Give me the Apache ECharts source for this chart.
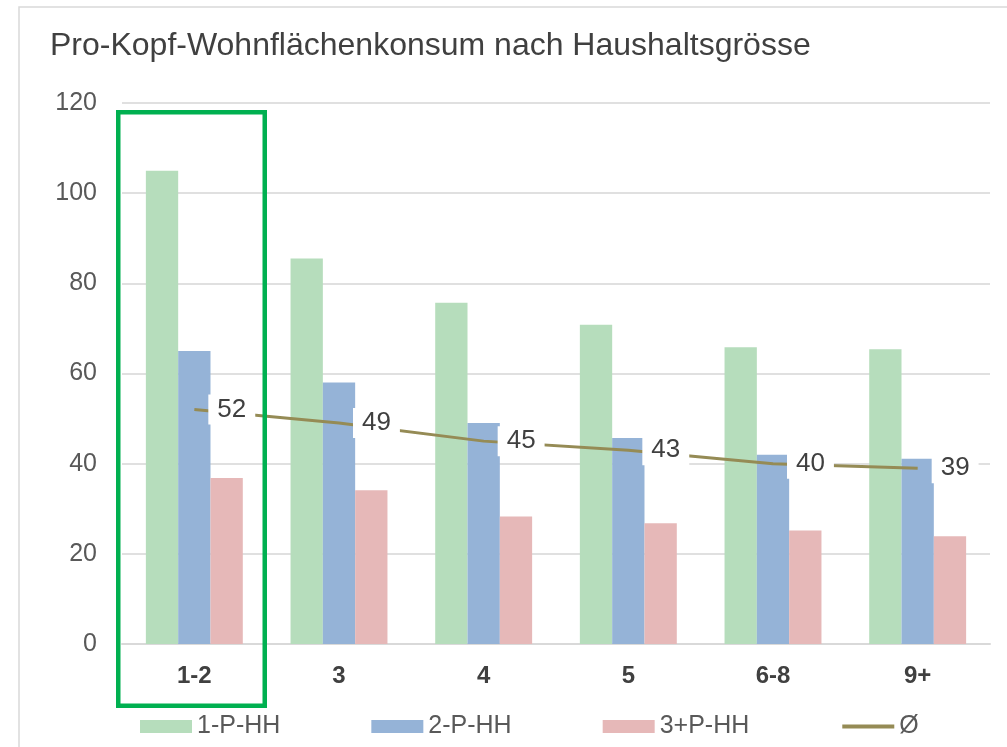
<!DOCTYPE html>
<html>
<head>
<meta charset="utf-8">
<script src="https://cdn.jsdelivr.net/npm/echarts@6/dist/echarts.min.js"></script>
<style>
html,body{margin:0;padding:0;background:#fff;}
#chart{width:1007px;height:747px;}
</style>
</head>
<body>
<div id="chart"></div>
<script>
var categories = ['1-2', '3', '4', '5', '6-8', '9+'];
var seriesNames = ['1-P-HH', '2-P-HH', '3+P-HH', 'Ø'];
var onePersonHH = [105, 85.5, 75.7, 70.8, 65.8, 65.4];
var twoPersonHH = [65, 58, 49, 45.7, 42, 41.1];
var threePlusPersonHH = [36.8, 34.1, 28.3, 26.8, 25.2, 23.9];
var average = [52, 49, 45, 43, 40, 39];
var yTicks = [0, 20, 40, 60, 80, 100, 120];

var FONT = '"Liberation Sans", Arial, Helvetica, sans-serif';
var chart = echarts.init(document.getElementById('chart'), null, {renderer: 'canvas'});

var option = {
  backgroundColor: '#ffffff',
  animation: false,
  title: {
    text: 'Pro-Kopf-Wohnflächenkonsum nach Haushaltsgrösse',
    left: 50,
    top: 30,
    padding: 0,
    textStyle: {fontFamily: FONT, fontSize: 32, fontWeight: 'normal', color: '#404040'}
  },
  legend: {
    left: 140,
    top: 714,
    padding: 0,
    itemWidth: 52,
    itemHeight: 13,
    itemGap: 91,
    textStyle: {fontFamily: FONT, fontSize: 25, color: '#595959'},
    data: [
      {name: seriesNames[0], icon: 'rect'},
      {name: seriesNames[1], icon: 'rect'},
      {name: seriesNames[2], icon: 'rect'},
      {name: seriesNames[3], itemStyle: {opacity: 0}, lineStyle: {width: 4}}
    ]
  },
  grid: {left: 122, right: 17, top: 103, bottom: 103, containLabel: false},
  xAxis: {
    type: 'category',
    data: categories,
    axisLine: {show: true, lineStyle: {color: '#d9d9d9', width: 2}},
    axisTick: {show: false},
    axisLabel: {fontFamily: FONT, fontSize: 24, fontWeight: 'bold', color: '#404040', margin: 20}
  },
  yAxis: {
    type: 'value',
    min: yTicks[0],
    max: yTicks[yTicks.length - 1],
    interval: yTicks[1] - yTicks[0],
    axisLine: {show: false},
    axisTick: {show: false},
    splitLine: {lineStyle: {color: '#e0e0e0', width: 2}},
    axisLabel: {fontFamily: FONT, fontSize: 25, color: '#595959', margin: 25}
  },
  series: [
    {name: seriesNames[0], type: 'bar', data: onePersonHH, barGap: '0%', barCategoryGap: '33%',
     itemStyle: {color: '#b6ddbc'}, z: 2},
    {name: seriesNames[1], type: 'bar', data: twoPersonHH, barGap: '0%', barCategoryGap: '33%',
     itemStyle: {color: '#95b3d7'}, z: 2},
    {name: seriesNames[2], type: 'bar', data: threePlusPersonHH, barGap: '0%', barCategoryGap: '33%',
     itemStyle: {color: '#e6b8b8'}, z: 2},
    {name: seriesNames[3], type: 'line', data: average, symbol: 'circle', symbolSize: 0,
     showSymbol: true, z: 5,
     lineStyle: {color: '#958b55', width: 3},
     itemStyle: {color: '#958b55'},
     label: {show: true, position: 'right', distance: 14, padding: [2, 9, 2, 9],
             backgroundColor: '#ffffff', color: '#404040', fontFamily: FONT, fontSize: 26}}
  ],
  graphic: [
    {type: 'rect', z: 100, silent: true,
     shape: {x: 19, y: 7, width: 1200, height: 1000},
     style: {fill: 'none', stroke: '#d9d9d9', lineWidth: 1.5}},
    {type: 'rect', z: 100, silent: true,
     shape: {x: 118.25, y: 112.25, width: 146.5, height: 593.5},
     style: {fill: 'none', stroke: '#00b050', lineWidth: 4.5}}
  ]
};
chart.setOption(option);
</script>
</body>
</html>
